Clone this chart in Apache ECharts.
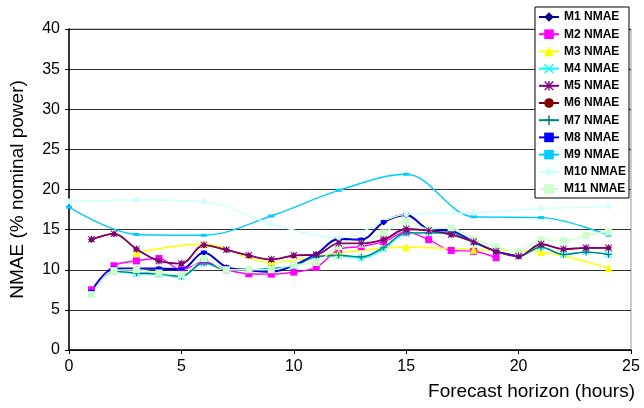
<!DOCTYPE html>
<html>
<head>
<meta charset="utf-8">
<script src="https://cdn.jsdelivr.net/npm/echarts@6/dist/echarts.min.js"></script>
<style>
  html, body { margin: 0; padding: 0; background: #fff; }
  #chart { width: 644px; height: 408px; }
</style>
</head>
<body>
<div id="chart"></div>
<script>
// forecast horizons (hours) used by the different models
var hours24 = [1, 2, 3, 4, 5, 6, 7, 8, 9, 10, 11, 12, 13, 14, 15, 16, 17, 18, 19, 20, 21, 22, 23, 24];
var hours20 = [1, 2, 3, 4, 5, 6, 7, 8, 9, 10, 11, 12, 13, 14, 15, 16, 17, 18, 19, 20];
var hours19 = [1, 2, 3, 4, 5, 6, 7, 8, 9, 10, 11, 12, 13, 14, 15, 16, 17, 18, 19];
var hoursEvery3 = [0, 3, 6, 9, 12, 15, 18, 21, 24];
var hoursFrom3 = [3, 6, 9, 12, 15, 18, 21, 24];

// NMAE values (% nominal power)
var m1 = [7.2, 10.1, 10.1, 10.1, 10.0, 12.1, 10.3, 9.9, 9.7, 10.5, 11.9, 13.8, 13.7, 15.9, 16.8, 15.0, 14.8, 13.4, 12.3, 11.7];
var m2 = [7.5, 10.5, 11.1, 11.4, 10.0, 11.0, 10.0, 9.5, 9.45, 9.7, 10.3, 12.5, 12.9, 13.5, 14.7, 13.75, 12.4, 12.3, 11.5];
var m3 = [12.1, 13.2, 10.9, 12.1, 12.8, 12.5, 12.2, 10.2];
var m4 = [7.0, 9.8, 9.5, 9.4, 9.1, 10.8, 10.0, 10.0, 10.2, 10.4, 11.7, 11.7, 11.45, 12.6, 14.5, 14.6, 14.6, 13.4, 12.3, 11.7, 12.8, 11.9, 12.2, 11.9];
var m5 = [13.8, 14.5, 12.6, 11.1, 10.8, 13.1, 12.5, 11.8, 11.3, 11.8, 11.9, 13.3, 13.3, 13.8, 15.1, 14.9, 14.4, 13.5, 12.3, 11.7, 13.2, 12.6, 12.75, 12.75];
var m6 = [13.75, 14.45, 12.55, 11.1, 10.75, 13.05, 12.45, 11.75, 11.25, 11.75, 11.85, 13.25, 13.25, 13.75, 15.0, 14.85, 14.35, 13.45, 12.25, 11.65, 13.15, 12.55, 12.7, 12.7];
var m7 = [7.0, 9.8, 9.6, 9.5, 9.2, 10.9, 10.0, 10.0, 10.1, 10.5, 11.6, 11.8, 11.6, 12.8, 14.6, 14.6, 14.6, 13.4, 12.3, 11.7, 12.8, 11.9, 12.2, 11.9];
var m8 = [7.3, 10.2, 10.2, 10.2, 10.1, 12.2, 10.4, 10.0, 9.8, 10.6, 12.0, 13.9, 13.8, 16.0, 16.9, 15.1, 14.9, 13.5, 12.3, 11.7];
var m9 = [17.8, 14.4, 14.3, 16.7, 19.9, 21.9, 16.6, 16.5, 14.3];
var m10 = [18.5, 18.7, 18.5, 15.7, 14.0, 16.9, 17.1, 17.6, 17.9];
var m11 = [6.9, 9.9, 10.0, 9.6, 9.4, 11.4, 10.0, 10.0, 10.0, 10.6, 10.9, 12.9, 13.2, 14.6, 16.0, 15.1, 15.2, 13.8, 12.9, 12.25, 13.75, 13.6, 14.3, 14.7];

var xTicks = [0, 5, 10, 15, 20, 25];
var yTicks = [0, 5, 10, 15, 20, 25, 30, 35, 40];

// marker shapes
var crossX = 'path://M0,1L1,0L5,4L9,0L10,1L6,5L10,9L9,10L5,6L1,10L0,9L4,5Z';
var plus = 'path://M4.2,0H5.8V4.2H10V5.8H5.8V10H4.2V5.8H0V4.2H4.2Z';
var star = 'path://M0,1L1,0L5,4L9,0L10,1L6,5L10,9L9,10L5,6L1,10L0,9L4,5ZM4.3,0H5.7V10H4.3ZM0,4.3H10V5.7H0Z';

function pairs(hours, values) {
    return hours.map(function (h, i) { return [h, values[i]]; });
}

function line(name, hours, values, color, symbol, size, z) {
    return {
        name: name,
        type: 'line',
        z: z || 2,
        data: pairs(hours, values),
        smooth: 0.35,
        symbol: symbol,
        symbolSize: size,
        showSymbol: true,
        lineStyle: { color: color, width: 1.4 },
        itemStyle: { color: color },
        emphasis: { disabled: true }
    };
}

var chartDom = echarts.init(document.getElementById('chart'));
chartDom.setOption({
    animation: false,
    backgroundColor: '#fff',
    grid: { left: 69, right: 13, top: 29, bottom: 58, show: true, borderColor: '#999', borderWidth: 1 },
    xAxis: {
        type: 'value',
        min: xTicks[0], max: xTicks[xTicks.length - 1], interval: 5,
        axisLine: { lineStyle: { color: '#000', width: 1.5 } },
        axisTick: { show: true, length: 4, lineStyle: { color: '#000' } },
        splitLine: { show: false },
        axisLabel: { color: '#000', fontSize: 16, fontFamily: 'Liberation Sans, Arial', margin: 9 },
        name: 'Forecast horizon (hours)',
        nameLocation: 'end',
        nameGap: 4,
        nameTextStyle: { color: '#000', fontSize: 19, fontFamily: 'Liberation Sans, Arial', align: 'right', verticalAlign: 'top', padding: [32, 0, 0, 0] }
    },
    yAxis: {
        type: 'value',
        min: yTicks[0], max: yTicks[yTicks.length - 1], interval: 5,
        axisLine: { show: true, lineStyle: { color: '#000', width: 1.5 } },
        axisTick: { show: true, length: 4, lineStyle: { color: '#000' } },
        splitLine: { show: true, lineStyle: { color: '#333', width: 1 } },
        axisLabel: { color: '#000', fontSize: 16, fontFamily: 'Liberation Sans, Arial', margin: 9 },
        name: 'NMAE (% nominal power)',
        nameLocation: 'middle',
        nameGap: 42,
        nameTextStyle: { color: '#000', fontSize: 19, fontFamily: 'Liberation Sans, Arial' }
    },
    legend: {
        orient: 'vertical',
        left: 535,
        top: 7,
        width: 92,
        padding: [4, 3, 3, 3],
        itemWidth: 20,
        itemHeight: 12,
        itemGap: 5.2,
        backgroundColor: '#fff',
        borderColor: '#000',
        borderWidth: 1,
        textStyle: { color: '#000', fontSize: 12, fontWeight: 'bold', fontFamily: 'Liberation Sans, Arial', lineHeight: 12 }
    },
    series: [
        line('M1 NMAE', hours20, m1, '#000080', 'diamond', 6),
        line('M2 NMAE', hours19, m2, '#FF00FF', 'rect', 7),
        line('M3 NMAE', hoursFrom3, m3, '#FFFF00', 'triangle', 8),
        line('M4 NMAE', hours24, m4, '#00FFFF', crossX, 7),
        line('M5 NMAE', hours24, m5, '#800080', star, 7, 3),
        line('M6 NMAE', hours24, m6, '#800000', 'circle', 5),
        line('M7 NMAE', hours24, m7, '#008080', plus, 7),
        line('M8 NMAE', hours20, m8, '#0000FF', 'rect', [6, 3]),
        line('M9 NMAE', hoursEvery3, m9, '#00CCFF', 'rect', [6, 3]),
        line('M10 NMAE', hoursEvery3, m10, '#CCFFFF', 'diamond', 7),
        line('M11 NMAE', hours24, m11, '#CCFFCC', 'rect', 7)
    ]
});
</script>
</body>
</html>
